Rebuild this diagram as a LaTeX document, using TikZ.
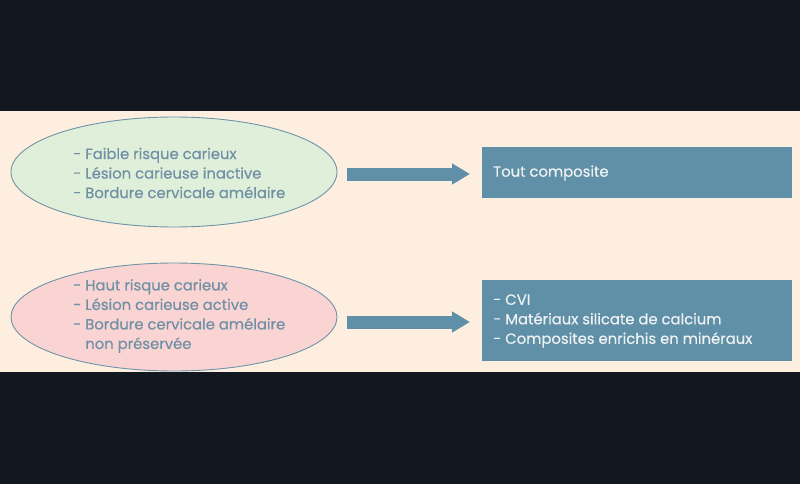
\documentclass[tikz,border=0pt]{standalone}
\usepackage{fontspec}
\setmainfont{Poppins}[FakeBold=0.45,BoldFont={Poppins}]
\usetikzlibrary{shapes.geometric,arrows.meta}
\definecolor{darkbg}{HTML}{111820}
\definecolor{beige}{HTML}{FDEEE0}
\definecolor{greenfill}{HTML}{E0EFDA}
\definecolor{pinkfill}{HTML}{F9D4D2}
\definecolor{ellborder}{HTML}{6F94A8}
\definecolor{steel}{HTML}{6090A8}
\definecolor{elltext}{HTML}{7090A5}
\definecolor{boxtext}{HTML}{EEF2F2}
\tikzset{
  ellbox/.style={ellipse, draw=ellborder, line width=0.9pt, minimum width=326pt, inner sep=0pt},
  ellline/.style={anchor=west, text=elltext, font=\fontsize{14.8}{19.5}\selectfont\bfseries, align=left, inner sep=0pt},
  resbox/.style={rectangle, fill=steel, minimum width=310pt, inner sep=0pt},
  resline/.style={anchor=west, text=boxtext, font=\fontsize{14.8}{19.5}\selectfont\bfseries, align=left, inner sep=0pt},
  fatarrow/.style={draw=steel, line width=13pt, -{Triangle[length=18pt,width=20pt]}, shorten >=0pt}
}
\begin{document}
\begin{tikzpicture}[x=1pt,y=-1pt]
\fill[darkbg] (0,0) rectangle (800,484);
\useasboundingbox (0,0) rectangle (800,484);
\fill[beige] (0,111) rectangle (800,372);
\node[ellbox, fill=greenfill, minimum height=110pt] (e1) at (174,172) {};
\node[ellbox, fill=pinkfill, minimum height=108pt] (e2) at (174,317) {};
\node[ellline] (t1) at (73,173) {- Faible risque carieux\\- Lésion carieuse inactive\\- Bordure cervicale amélaire};
\node[ellline] (t2) at (73,316) {- Haut risque carieux\\- Lésion carieuse active\\- Bordure cervicale amélaire\\\phantom{- }non préservée};
\node[resbox, minimum height=51pt] (b1) at (637,172.5) {};
\node[resbox, minimum height=81pt] (b2) at (637,320.5) {};
\node[resline] (r1) at (493,173) {Tout composite};
\node[resline] (r2) at (493,321) {- CVI\\- Matériaux silicate de calcium\\- Composites enrichis en minéraux};
\coordinate (a1s) at (347,174);
\coordinate (a1e) at (470,174);
\coordinate (a2s) at (347,322);
\coordinate (a2e) at (470,322);
\draw[fatarrow] (a1s) -- (a1e);
\draw[fatarrow] (a2s) -- (a2e);
\end{tikzpicture}
\end{document}
